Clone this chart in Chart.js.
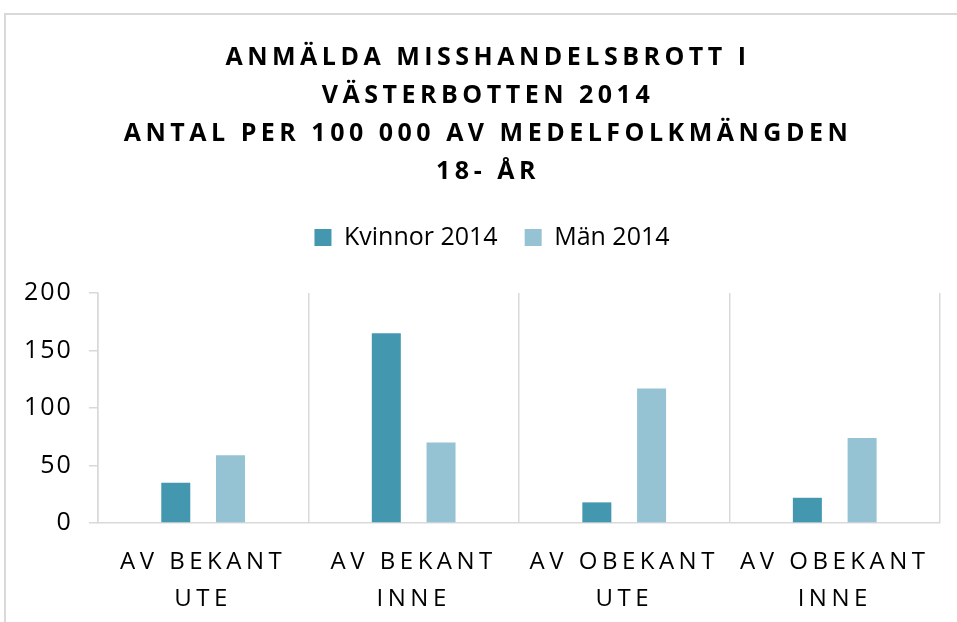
<!DOCTYPE html>
<html>
<head>
<meta charset="utf-8">
<script src="https://cdn.jsdelivr.net/npm/chart.js@4.4.1/dist/chart.umd.min.js"></script>
<style>
  html, body { margin: 0; padding: 0; background: #fff; }
  #frame { position: absolute; left: 4px; top: 13px; width: 980px; height: 640px; border: 2px solid #d9d9d9; box-sizing: border-box; }
  #wrap { position: absolute; left: 0; top: 0; width: 957px; height: 622px; }
</style>
</head>
<body>
<div id="frame"></div>
<div id="wrap"><canvas id="chart"></canvas></div>
<script>
// Data afläst från bilden
const categories = [
    ['AV BEKANT', 'UTE'],
    ['AV BEKANT', 'INNE'],
    ['AV OBEKANT', 'UTE'],
    ['AV OBEKANT', 'INNE']
];
const kvinnor2014 = [35, 165, 18, 22];
const man2014 = [59, 70, 117, 74];
const yTicks = [0, 50, 100, 150, 200];

const titleLines = [
    'ANMÄLDA MISSHANDELSBROTT I',
    'VÄSTERBOTTEN 2014',
    'ANTAL PER 100 000 AV MEDELFOLKMÄNGDEN',
    '18- ÅR'
];

// Bokstavsavstånd och liten förskjutning i sidled för en ritfunktion
function patchDraw(obj, name, spacing, dx) {
    if (!obj || obj['_patched_' + name]) return;
    const orig = obj[name];
    obj[name] = function () {
        const ctx = this.ctx;
        ctx.save();
        ctx.letterSpacing = spacing;
        ctx.translate(dx, 0);
        orig.apply(this, arguments);
        ctx.restore();
    };
    obj['_patched_' + name] = true;
}

const layoutPlugin = {
    id: 'layoutTweaks',
    beforeLayout(chart) {
        // extra luft mellan förklaringen och diagramytan
        const lg = chart.legend;
        if (lg && !lg._extra) {
            const fit = lg.fit;
            lg.fit = function () {
                fit.apply(this, arguments);
                this.height += 33;
            };
            lg._extra = true;
        }
    },
    beforeDraw(chart) {
        patchDraw(chart.titleBlock, 'draw', '4.5px', 11);
        patchDraw(chart.legend, 'draw', '0px', 15);
        patchDraw(chart.scales.x, 'drawLabels', '4.5px', 0);
        patchDraw(chart.scales.y, 'drawLabels', '2px', 0);
    }
};

Chart.defaults.font.family = '"Open Sans", sans-serif';
Chart.defaults.color = '#000';

const ctx = document.getElementById('chart').getContext('2d');
window.myChart = new Chart(ctx, {
    type: 'bar',
    data: {
        labels: categories,
        datasets: [{
            label: 'Kvinnor 2014',
            data: kvinnor2014,
            backgroundColor: '#4398af',
            categoryPercentage: 0.52,
            barPercentage: 0.53
        }, {
            label: 'Män 2014',
            data: man2014,
            backgroundColor: '#95c3d4',
            categoryPercentage: 0.52,
            barPercentage: 0.53
        }]
    },
    options: {
        responsive: true,
        maintainAspectRatio: false,
        animation: false,
        layout: {
            padding: { left: 14, right: 17, top: 0, bottom: -17 }
        },
        plugins: {
            title: {
                display: true,
                text: titleLines,
                font: { size: 25, weight: 'bold', lineHeight: 1.52 },
                padding: { top: 39, bottom: 7 }
            },
            legend: {
                position: 'top',
                labels: {
                    boxWidth: 17,
                    boxHeight: 17,
                    padding: 27,
                    font: { size: 25 }
                }
            },
            tooltip: { enabled: false }
        },
        scales: {
            x: {
                grid: {
                    color: '#d9d9d9',
                    lineWidth: 1.5,
                    drawTicks: false
                },
                border: { color: '#d9d9d9', width: 1.5 },
                ticks: {
                    font: { size: 24, lineHeight: 1.54 },
                    padding: 21,
                    maxRotation: 0,
                    autoSkip: false
                }
            },
            y: {
                min: 0,
                max: 200,
                afterBuildTicks(axis) {
                    axis.ticks = yTicks.map(v => ({ value: v }));
                },
                grid: {
                    drawOnChartArea: false,
                    color: '#d9d9d9',
                    lineWidth: 1.5,
                    tickLength: 9
                },
                border: { color: '#d9d9d9', width: 1.5 },
                ticks: {
                    font: { size: 25 },
                    padding: 16
                }
            }
        }
    },
    plugins: [layoutPlugin]
});
</script>
</body>
</html>
